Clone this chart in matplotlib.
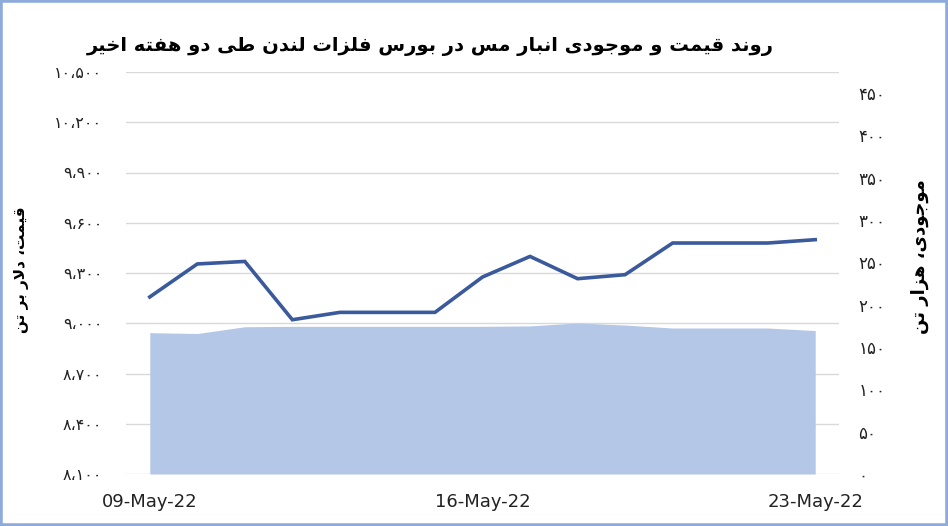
import matplotlib
matplotlib.use('Agg')
import matplotlib.pyplot as plt
from matplotlib.patches import Rectangle

dates = ['09-May-22', '10-May-22', '11-May-22', '12-May-22', '13-May-22',
         '14-May-22', '15-May-22', '16-May-22', '17-May-22', '18-May-22',
         '19-May-22', '20-May-22', '21-May-22', '22-May-22', '23-May-22']
price = [9157, 9354, 9369, 9021, 9065, 9065, 9065, 9276, 9399, 9266,
         9290, 9479, 9479, 9479, 9499]
stock = [167, 166, 174, 174.5, 174.5, 174.5, 174.5, 174.5, 175, 178.5,
         176, 172.5, 172.5, 172.5, 169.5]
shown_dates = ['09-May-22', '16-May-22', '23-May-22']
price_ticks = list(range(8100, 10501, 300))
stock_ticks = list(range(0, 451, 50))

title = 'روند قیمت و موجودی انبار مس در بورس فلزات لندن طی دو هفته اخیر'
left_label = 'قیمت، دلار بر تن'
right_label = 'موجودی، هزار تن'

# presentation forms: isolated, final, initial, medial
FORMS = {
    'ا': ('\uFE8D', '\uFE8E', None, None),
    'ب': ('\uFE8F', '\uFE90', '\uFE91', '\uFE92'),
    'ت': ('\uFE95', '\uFE96', '\uFE97', '\uFE98'),
    'ج': ('\uFE9D', '\uFE9E', '\uFE9F', '\uFEA0'),
    'خ': ('\uFEA5', '\uFEA6', '\uFEA7', '\uFEA8'),
    'د': ('\uFEA9', '\uFEAA', None, None),
    'ر': ('\uFEAD', '\uFEAE', None, None),
    'ز': ('\uFEAF', '\uFEB0', None, None),
    'س': ('\uFEB1', '\uFEB2', '\uFEB3', '\uFEB4'),
    'ط': ('\uFEC1', '\uFEC2', '\uFEC3', '\uFEC4'),
    'ف': ('\uFED1', '\uFED2', '\uFED3', '\uFED4'),
    'ق': ('\uFED5', '\uFED6', '\uFED7', '\uFED8'),
    'ل': ('\uFEDD', '\uFEDE', '\uFEDF', '\uFEE0'),
    'م': ('\uFEE1', '\uFEE2', '\uFEE3', '\uFEE4'),
    'ن': ('\uFEE5', '\uFEE6', '\uFEE7', '\uFEE8'),
    'ه': ('\uFEE9', '\uFEEA', '\uFEEB', '\uFEEC'),
    'و': ('\uFEED', '\uFEEE', None, None),
    'ی': ('\uFEEF', '\uFEF0', '\uFEF3', '\uFEF4'),
}


def dual(c):
    return c in FORMS and FORMS[c][2] is not None


def shape(s):
    out = []
    i = 0
    n = len(s)
    while i < n:
        c = s[i]
        if c not in FORMS:
            out.append(c)
            i += 1
            continue
        join_prev = i > 0 and dual(s[i - 1])
        if c == 'ل' and i + 1 < n and s[i + 1] == 'ا':
            out.append('\uFEFC' if join_prev else '\uFEFB')
            i += 2
            continue
        join_next = dual(c) and i + 1 < n and s[i + 1] in FORMS
        iso, fin, ini, med = FORMS[c]
        if join_prev and join_next:
            out.append(med)
        elif join_prev:
            out.append(fin)
        elif join_next:
            out.append(ini)
        else:
            out.append(iso)
        i += 1
    return ''.join(reversed(out))


def fa_num(v):
    s = f'{v:,}'
    return s.translate(str.maketrans('0123456789,', '۰۱۲۳۴۵۶۷۸۹،'))


plt.rcParams['font.family'] = ['DejaVu Sans']

fig = plt.figure(figsize=(9.48, 5.26), dpi=100)
W, H = 948, 526
ax = fig.add_axes([126 / W, 1 - 474 / H, (839 - 126) / W, (474 - 72) / H])
ax2 = ax.twinx()

x = list(range(len(dates)))

ax.set_xlim(-0.5, len(dates) - 0.5)
ax.set_ylim(8100, 10500)
ax.set_yticks(price_ticks)
ax.set_yticklabels([fa_num(v) for v in price_ticks], fontsize=11.5, color='#222222')
ax.grid(axis='y', color='#d9d9d9', linewidth=1)
ax.set_axisbelow(True)
ax.tick_params(axis='y', length=0, pad=17)
ax.set_xticks([dates.index(d) for d in shown_dates])
ax.set_xticklabels(shown_dates, fontsize=13, color='#222222')
ax.tick_params(axis='x', length=0, pad=14)
for sp in ax.spines.values():
    sp.set_visible(False)

ax2.fill_between(x, stock, 0, color='#b4c7e7', linewidth=0)
ax2.plot(x, price, color='#3a5a9c', linewidth=2.6, transform=ax.transData,
         solid_joinstyle='miter', zorder=3)
ax2.set_ylim(0, 475)
ax2.set_yticks(stock_ticks)
ax2.set_yticklabels([fa_num(v) for v in stock_ticks], fontsize=12, color='#222222')
ax2.tick_params(axis='y', length=0, pad=14)
for sp in ax2.spines.values():
    sp.set_visible(False)

fig.text(430 / W, 1 - 46 / H, shape(title), ha='center', va='center',
         fontsize=14, fontweight='bold')
fig.text(22 / W, 1 - 270 / H, shape(left_label), rotation=90, ha='center',
         va='center', fontsize=11, fontweight='bold')
fig.text(920 / W, 1 - 257 / H, shape(right_label), rotation=90, ha='center',
         va='center', fontsize=13, fontweight='bold')

fig.patches.append(Rectangle((0, 0), 1, 1, transform=fig.transFigure, fill=False,
                             edgecolor='#8eaadb', linewidth=4))

fig.savefig('out.png', dpi=100)
